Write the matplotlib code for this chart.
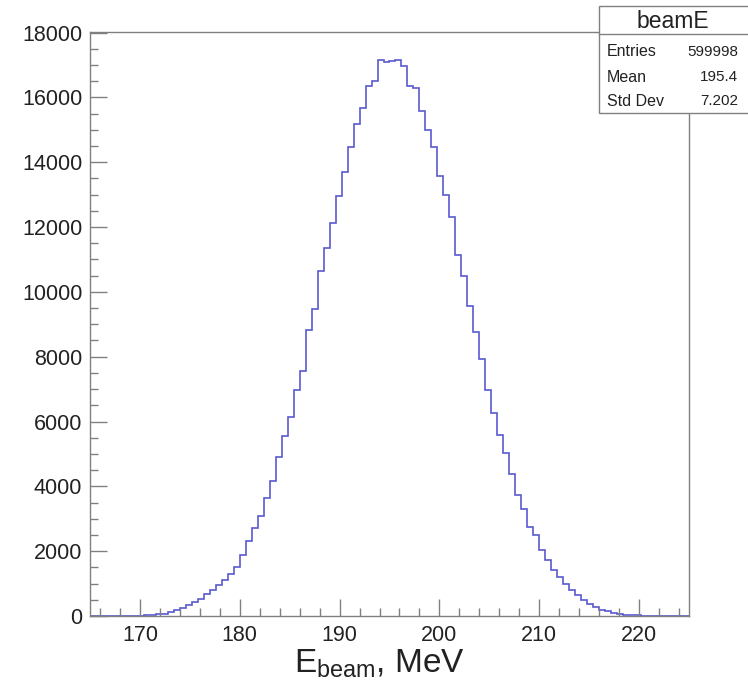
import numpy as np
import matplotlib
matplotlib.use('Agg')
import matplotlib.pyplot as plt
from matplotlib.patches import Rectangle
from matplotlib.ticker import MultipleLocator

plt.rcParams['font.family'] = ['Liberation Sans', 'DejaVu Sans']
plt.rcParams['mathtext.fontset'] = 'custom'
plt.rcParams['mathtext.rm'] = 'Liberation Sans'

# histogram: 100 bins from 165 to 225 MeV
n_bins = 100
e_lo, e_hi = 165.0, 225.0
counts = [
    0, 0, 0, 0, 0, 0, 5, 10, 15, 30,
    40, 55, 75, 120, 190, 255, 330, 430, 535, 670,
    790, 950, 1100, 1290, 1510, 1870, 2300, 2700, 3090, 3630,
    4150, 4900, 5540, 6150, 6980, 7570, 8810, 9470, 10630, 11350,
    12140, 12970, 13700, 14470, 15180, 15670, 16340, 16520, 17160, 17100,
    17110, 17160, 16980, 16340, 16290, 15590, 14980, 14470, 13560, 12990,
    12310, 11140, 10480, 9570, 8750, 7940, 6980, 6260, 5590, 5040,
    4380, 3740, 3290, 2750, 2490, 2030, 1720, 1430, 1200, 1000,
    790, 640, 485, 380, 280, 195, 145, 95, 60, 45,
    35, 20, 12, 6, 3, 0, 0, 0, 0, 0,
]
stat_names = ['Entries', 'Mean', 'Std Dev']
stat_values = ['599998', '195.4', '7.202']
hist_name = 'beamE'

edges = np.linspace(e_lo, e_hi, n_bins + 1)

W, H = 748, 684
fig = plt.figure(figsize=(W / 100, H / 100), dpi=100)
ax = fig.add_axes([90 / W, (H - 616) / H, (689 - 90) / W, (616 - 32) / H])

ax.stairs(counts, edges, color='#5a5ad0', lw=1.2)

ax.set_xlim(e_lo, e_hi)
ax.set_ylim(0, 1.05 * max(counts))

frame_col = '#808080'
for side in ['left', 'bottom', 'right', 'top']:
    ax.spines[side].set_color(frame_col)
    ax.spines[side].set_linewidth(1.0)

ax.xaxis.set_major_locator(MultipleLocator(10))
ax.xaxis.set_minor_locator(MultipleLocator(2))
ax.yaxis.set_major_locator(MultipleLocator(2000))
ax.yaxis.set_minor_locator(MultipleLocator(500))
ax.tick_params(which='both', direction='in', color=frame_col, width=1.0,
               top=False, right=False)
ax.tick_params(which='major', length=12.5, labelsize=15.5, labelcolor='#222222')
ax.tick_params(which='minor', length=6)
ax.tick_params(axis='x', pad=6.5)
ax.tick_params(axis='y', pad=5.5)

fig.text(380 / W, 12 / H, r'E$_{\rm beam}$, MeV', fontsize=24,
         ha='center', va='baseline', color='#222222')

# stats box
box_top, box_bot, box_left = 6, 113, 599
fig.patches.append(Rectangle((box_left / W, (H - box_bot) / H),
                             (W + 5 - box_left) / W, (box_bot - box_top) / H,
                             transform=fig.transFigure, facecolor='white',
                             edgecolor=frame_col, lw=1.0, zorder=5))
fig.add_artist(plt.Line2D([box_left / W, 1], [(H - 34) / H, (H - 34) / H],
                          transform=fig.transFigure, color=frame_col, lw=1.0,
                          zorder=6))
fig.text(673 / W, (H - 21) / H, hist_name, fontsize=16.5, ha='center',
         va='center', color='#222222', zorder=7)
row_y = [52, 77, 101]
for name, val, y in zip(stat_names, stat_values, row_y):
    fig.text(607 / W, (H - y) / H, name, fontsize=11.5, ha='left',
             va='center', color='#222222', zorder=7)
    fig.text(738 / W, (H - y) / H, val, fontsize=11, ha='right',
             va='center', color='#222222', zorder=7)

fig.savefig('out.png', dpi=100)
